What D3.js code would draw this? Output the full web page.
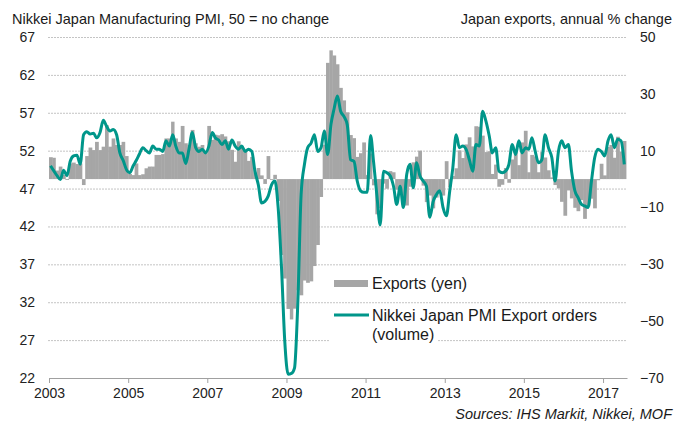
<!DOCTYPE html>
<html lang="en">
<head>
<meta charset="UTF-8">
<title>Japan exports and PMI export orders</title>
<script src="https://cdn.jsdelivr.net/npm/d3@7"></script>
<style>
  body { margin: 0; background: #fff; }
  svg { font-family: "Liberation Sans", Arial, sans-serif; }
  .tick text { font-size: 14px; fill: #222; }
</style>
</head>
<body>
<script>

// first month of the data, one value per month after it
var startYear = 2003;

// Japan exports, annual % change (yen), Jan 2003 - Jul 2017
var exportsYen = [
  7.7, 7.5, 3.0, 4.4, 1.5, -0.3, 5.5, 5.8, 5.3, 5.5, -2.1, 8.1,
  11.1, 10.2, 13.1, 10.2, 11.4, 19.0, 11.4, 14.3, 12.0, 12.0, 13.1, 8.1,
  1.8, 1.4, 5.5, 1.4, 1.7, 3.8, 4.4, 4.4, 8.5, 8.5, 8.8, 14.3,
  14.3, 20.2, 14.3, 13.1, 18.7, 12.6, 12.0, 17.3, 12.6, 11.4, 12.0, 9.1,
  18.7, 13.8, 15.6, 15.4, 15.8, 15.0, 13.3, 10.3, 6.1, 13.3, 11.5, 10.3,
  6.4, 7.8, 2.3, 3.9, 1.3, -1.7, 8.1, -0.3, 1.5, -7.7, -26.7, -35.0,
  -45.7, -49.4, -45.6, -39.1, -40.9, -35.7, -36.5, -36.0, -30.6, -23.2, -6.3, 12.1,
  40.9, 45.3, 43.5, 40.4, 32.1, 27.7, 23.5, 15.5, 14.4, 7.8, 9.1, 12.9,
  1.4, 9.0, -2.2, -12.4, -10.3, -1.6, -3.4, 2.8, 2.4, -3.7, -4.5, -8.0,
  -9.3, -2.7, 5.9, 7.9, 10.0, -2.3, -8.1, -5.8, -10.3, -6.5, -4.1, -5.8,
  6.3, -2.9, 1.1, 3.8, 10.1, 7.4, 12.2, 14.7, 11.5, 18.6, 18.4, 15.3,
  9.5, 9.8, 1.8, 5.1, -2.7, -2.0, 3.9, -1.3, 6.9, 9.6, 4.9, 12.9,
  17.0, 2.4, 8.5, 8.0, 2.4, 9.5, 7.6, 3.1, 0.6, -2.1, -3.3, -8.0,
  -12.9, -4.0, -6.8, -10.1, -11.3, -7.4, -14.0, -9.6, -6.9, -10.3, -0.4, 5.4,
  1.3, 11.3, 12.0, 7.5, 14.9, 9.7, 13.4
];

// Nikkei Japan PMI export orders (volume), Jan 2003 - Jul 2017
var exportOrders = [
  50.0, 49.3, 48.7, 48.2, 49.4, 48.7, 50.6, 51.3, 51.4, 50.2, 54.1, 54.5,
  54.2, 54.3, 53.7, 54.4, 56.0, 55.2, 54.6, 54.8, 54.1, 51.7, 50.7, 49.5,
  49.1, 50.0, 50.7, 51.6, 52.4, 52.0, 51.7, 52.6, 52.2, 52.2, 51.9, 53.3,
  52.6, 54.1, 52.6, 51.7, 51.7, 50.3, 52.2, 54.4, 52.4, 51.9, 52.2, 51.7,
  52.6, 54.4, 53.7, 53.4, 52.8, 53.3, 52.2, 53.4, 52.6, 52.2, 52.6, 51.9,
  52.2, 51.9, 49.3, 47.5, 45.1, 45.3, 46.0, 47.5, 48.0, 44.5, 36.6, 26.9,
  22.5, 22.6, 23.3, 32.1, 46.2, 50.2, 52.4, 53.0, 54.1, 51.9, 52.4, 54.6,
  51.5, 55.5, 57.5, 59.2, 57.2, 56.5, 55.4, 50.8, 50.6, 48.0, 46.7, 46.5,
  46.5, 54.0, 50.5, 46.0, 42.2, 49.3, 49.1, 48.7, 47.3, 44.9, 47.3, 44.5,
  48.9, 50.2, 47.1, 50.4, 48.7, 48.0, 47.3, 43.2, 45.3, 46.2, 46.7, 44.5,
  43.4, 46.7, 49.7, 54.1, 52.4, 52.6, 52.2, 50.8, 49.3, 52.8, 52.6, 57.2,
  55.9, 53.9, 51.7, 52.4, 49.3, 49.1, 49.3, 50.2, 52.8, 51.5, 53.3, 51.7,
  52.4, 52.2, 53.7, 51.9, 50.4, 50.8, 54.1, 52.4, 51.1, 48.0, 51.9, 53.3,
  52.4, 52.8, 49.3, 46.7, 45.8, 44.9, 44.7, 44.5, 48.0, 51.1, 52.2, 51.9,
  51.3, 53.3, 54.1, 52.4, 53.5, 53.3, 50.2
];

var pmiTicks = [22, 27, 32, 37, 42, 47, 52, 57, 62, 67];
var exportTicks = [-70, -50, -30, -10, 10, 30, 50];
var yearTicks = [2003, 2005, 2007, 2009, 2011, 2013, 2015, 2017];

var leftTitle = "Nikkei Japan Manufacturing PMI, 50 = no change";
var rightTitle = "Japan exports, annual % change";
var source = "Sources: IHS Markit, Nikkei, MOF";

var width = 678, height = 426;
var plotL = 49, plotR = 627, plotT = 37, plotB = 378;
var teal = "#00968a", grey = "#a6a6a6";

function month(i) { return new Date(startYear, i, 1); }

var svg = d3.select("body").append("svg")
  .attr("width", width)
  .attr("height", height);

var x = d3.scaleTime()
  .domain([new Date(2003, 0, 1), new Date(2017, 7, 10)])
  .range([plotL, plotR]);
var yL = d3.scaleLinear().domain([22, 67]).range([plotB, plotT]);
var yR = d3.scaleLinear().domain([-70, 50]).range([plotB, plotT]);

// dotted grid lines on the PMI scale
svg.append("g").selectAll("line")
  .data(pmiTicks.filter(function(d) { return d > 22; }))
  .enter().append("line")
  .attr("x1", plotL - 1).attr("x2", plotR)
  .attr("y1", function(d) { return yL(d) + 0.5; })
  .attr("y2", function(d) { return yL(d) + 0.5; })
  .attr("stroke", "#c4c4c4")
  .attr("stroke-dasharray", "2,1");

// export bars from zero on the right scale
svg.append("g").selectAll("rect")
  .data(exportsYen)
  .enter().append("rect")
  .attr("x", function(d, i) { return x(month(i)); })
  .attr("width", function(d, i) { return x(month(i + 1)) - x(month(i)) + 0.4; })
  .attr("y", function(d) { return Math.min(yR(d), yR(0)); })
  .attr("height", function(d) { return Math.abs(yR(d) - yR(0)); })
  .attr("fill", grey);

// legend (drawn under the line, white box hides the grid behind the text)
var lg = svg.append("g");
lg.append("rect").attr("x", 330).attr("y", 327).attr("width", 108).attr("height", 19).attr("fill", "#fff");
lg.append("rect").attr("x", 334).attr("y", 280).attr("width", 34).attr("height", 7).attr("fill", grey);
lg.append("line").attr("x1", 334).attr("x2", 369).attr("y1", 315).attr("y2", 315)
  .attr("stroke", teal).attr("stroke-width", 3);
lg.append("text").attr("x", 372).attr("y", 289).style("font-size", "16px").attr("fill", "#1a1a1a")
  .text("Exports (yen)");
lg.append("text").attr("x", 372).attr("y", 321).style("font-size", "16px").attr("fill", "#1a1a1a")
  .text("Nikkei Japan PMI Export orders");
lg.append("text").attr("x", 372).attr("y", 340).style("font-size", "16px").attr("fill", "#1a1a1a")
  .text("(volume)");

// PMI export orders line, at mid month
var line = d3.line()
  .x(function(d, i) { return x(new Date(startYear, i, 16)); })
  .y(function(d) { return yL(d); })
  .curve(d3.curveMonotoneX);

svg.append("path")
  .datum(exportOrders)
  .attr("d", line)
  .attr("fill", "none")
  .attr("stroke", teal)
  .attr("stroke-width", 3)
  .attr("stroke-linejoin", "round");

// axes
svg.append("g")
  .attr("transform", "translate(" + plotL + ",0)")
  .call(d3.axisLeft(yL).tickValues(pmiTicks).tickSize(0).tickPadding(14))
  .call(function(g) { g.select(".domain").remove(); });

svg.append("g")
  .attr("transform", "translate(" + plotR + ",0)")
  .call(d3.axisRight(yR).tickValues(exportTicks).tickSize(0).tickPadding(13))
  .call(function(g) { g.select(".domain").remove(); });

var xAxis = svg.append("g")
  .attr("transform", "translate(0," + plotB + ")")
  .call(d3.axisBottom(x)
    .tickValues(yearTicks.map(function(y) { return new Date(y, 0, 1); }))
    .tickFormat(d3.timeFormat("%Y"))
    .tickSize(5).tickSizeOuter(0).tickPadding(5));
xAxis.selectAll("line, path").attr("stroke", "#a0a0a0");

// titles
svg.append("text").attr("x", 12).attr("y", 24).style("font-size", "14.5px").attr("fill", "#1a1a1a")
  .text(leftTitle);
svg.append("text").attr("x", 672).attr("y", 24).attr("text-anchor", "end").style("font-size", "14.5px")
  .attr("fill", "#1a1a1a").text(rightTitle);
svg.append("text").attr("x", 672).attr("y", 419).attr("text-anchor", "end").style("font-size", "14.5px")
  .style("font-style", "italic").attr("fill", "#1a1a1a").text(source);

</script>
</body>
</html>
